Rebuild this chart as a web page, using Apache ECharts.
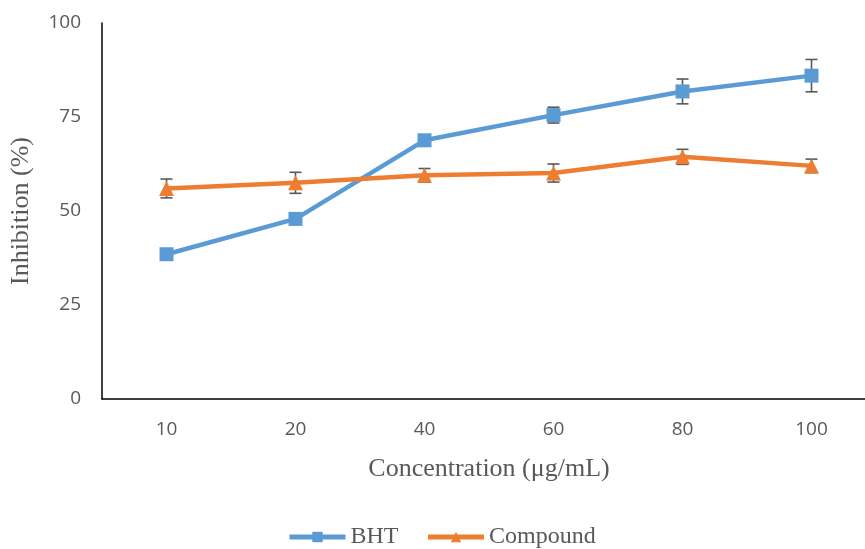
<!DOCTYPE html>
<html><head><meta charset="utf-8">
<script src="https://cdn.jsdelivr.net/npm/echarts@6/dist/echarts.min.js"></script>
<style>html,body{margin:0;padding:0;background:#fff}#c{width:865px;height:549px}</style>
</head><body><div id="c"></div>
<script>
const categories = ['10', '20', '40', '60', '80', '100'];
const bhtValues = [38.5, 47.9, 68.8, 75.5, 81.8, 86.0];
const bhtErrors = [0.9, 1.1, 1.0, 2.1, 3.3, 4.3];
const compoundValues = [56.0, 57.5, 59.5, 60.1, 64.4, 62.0];
const compoundErrors = [2.5, 2.8, 1.8, 2.4, 2.0, 1.8];
const yTicks = [0, 25, 50, 75, 100];

function errData(vals, errs) {
  return vals.map((v, i) => [i, v - errs[i], v + errs[i]]);
}
function errRender(params, api) {
  const x = api.value(0);
  const lo = api.coord([x, api.value(1)]);
  const hi = api.coord([x, api.value(2)]);
  const hw = 6;
  const style = { stroke: '#595959', lineWidth: 1.6 };
  return {
    type: 'group',
    children: [
      { type: 'line', shape: { x1: lo[0], y1: lo[1], x2: hi[0], y2: hi[1] }, style },
      { type: 'line', shape: { x1: lo[0] - hw, y1: lo[1], x2: lo[0] + hw, y2: lo[1] }, style },
      { type: 'line', shape: { x1: hi[0] - hw, y1: hi[1], x2: hi[0] + hw, y2: hi[1] }, style }
    ]
  };
}

const chart = echarts.init(document.getElementById('c'));
chart.setOption({
  animation: false,
  grid: { left: 102, right: -11, top: 23, bottom: 150, containLabel: false, outerBoundsMode: 'none' },
  xAxis: {
    type: 'category',
    data: categories,
    boundaryGap: true,
    axisLine: { lineStyle: { color: '#000', width: 1.5 } },
    axisTick: { show: false },
    axisLabel: { color: '#595959', fontFamily: 'Open Sans', fontSize: 19, margin: 21 },
    name: 'Concentration (μg/mL)',
    nameLocation: 'middle',
    nameGap: 57,
    nameTextStyle: { color: '#595959', fontFamily: 'Liberation Serif', fontSize: 26 }
  },
  yAxis: {
    type: 'value',
    min: yTicks[0], max: yTicks[yTicks.length - 1], interval: 25,
    splitLine: { show: false },
    axisLine: { show: true, lineStyle: { color: '#000', width: 1.5 } },
    axisTick: { show: false },
    axisLabel: { color: '#595959', fontFamily: 'Open Sans', fontSize: 19, margin: 21 },
    name: 'Inhibition (%)',
    nameLocation: 'middle',
    nameGap: 68,
    nameTextStyle: { color: '#595959', fontFamily: 'Liberation Serif', fontSize: 26 }
  },
  legend: {
    top: 520,
    left: 282,
    itemWidth: 56,
    itemHeight: 13,
    itemGap: 27,
    lineStyle: { width: 5 },
    textStyle: { color: '#595959', fontFamily: 'Liberation Serif', fontSize: 24 },
    data: ['BHT', 'Compound']
  },
  series: [
    { type: 'custom', name: 'bhtErr', renderItem: errRender, data: errData(bhtValues, bhtErrors), z: 1, silent: true },
    { type: 'custom', name: 'cmpErr', renderItem: errRender, data: errData(compoundValues, compoundErrors), z: 1, silent: true },
    {
      type: 'line', name: 'BHT', data: bhtValues, z: 3,
      symbol: 'rect', symbolSize: 14,
      lineStyle: { color: '#5B9BD5', width: 4.5 },
      itemStyle: { color: '#5B9BD5' }
    },
    {
      type: 'line', name: 'Compound', data: compoundValues, z: 3,
      symbol: 'triangle', symbolSize: 15,
      lineStyle: { color: '#ED7D31', width: 4.5 },
      itemStyle: { color: '#ED7D31' }
    }
  ]
});
</script></body></html>
